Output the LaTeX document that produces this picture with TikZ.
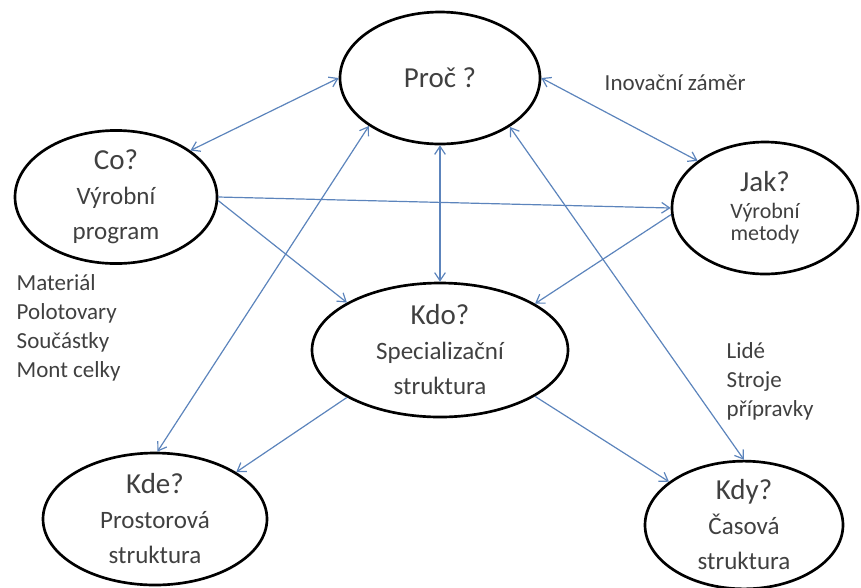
\documentclass[tikz,border=0pt]{standalone}
\usepackage{fontspec}
\setmainfont{Carlito}
\usetikzlibrary{shapes.geometric}
\usetikzlibrary{arrows.meta}

\definecolor{textgray}{RGB}{64,64,64}
\definecolor{linkblue}{RGB}{92,132,188}
\newcommand{\qsize}{\fontsize{21.75}{26.25}\selectfont}
\newcommand{\dsize}{\fontsize{18.75}{26.25}\selectfont}
\newcommand{\jsize}{\fontsize{16.5}{17}\selectfont}
\newcommand{\lsize}{\fontsize{17.25}{21.75}\selectfont}

\tikzset{
  bubble/.style={ellipse,draw=black,line width=2pt,inner sep=0pt,align=center,text=textgray,font=\dsize},
  link/.style={draw=linkblue,line width=0.9pt,{Straight Barb[length=6pt,width=8pt]}-{Straight Barb[length=6pt,width=8pt]}},
  onelink/.style={draw=linkblue,line width=0.9pt,-{Straight Barb[length=6pt,width=8pt]}},
  side/.style={anchor=west,align=left,text=textgray,font=\lsize}
}

\begin{document}
\begin{tikzpicture}[x=0.75pt,y=-0.75pt]
\useasboundingbox (0,0) rectangle (861,587);
\node[bubble,minimum width=150pt,minimum height=99pt] (proc) at (440,78) {{\qsize Proč ?}};
\node[bubble,minimum width=151.5pt,minimum height=97.5pt] (co) at (116,197) {{\qsize Co?}\\Výrobní\\program};
\node[bubble,minimum width=139.5pt,minimum height=99pt,font=\jsize] (jak) at (765,208) {{\qsize Jak?}\\[3pt]Výrobní\\metody};
\node[bubble,minimum width=192pt,minimum height=100.5pt] (kdo) at (440,350) {{\qsize Kdo?}\\Specializační\\struktura};
\node[bubble,minimum width=168pt,minimum height=99pt] (kde) at (155,519) {{\qsize Kde?}\\Prostorová\\struktura};
\node[bubble,minimum width=148.5pt,minimum height=93pt] (kdy) at (744,525) {{\qsize Kdy?}\\Časová\\struktura};

\node[side] (zamer) at (600,83) {Inovační záměr};
\node[side] (dily) at (12,328) {Materiál\\Polotovary\\Součástky\\Mont celky};
\node[side] (zdroje) at (722,381) {Lidé\\Stroje\\přípravky};

\draw[link] (proc.west) -- (co.32);
\draw[link] (proc.east) -- (jak.145);
\draw[link] (proc.south) -- (kdo.north);
\draw[link] (proc.214) -- (kde.88);
\draw[link] (proc.-35) -- (kdy.north);
\draw[onelink] (co.east) -- (jak.west);
\draw[onelink] (co.-2) -- (kdo.153);
\draw[onelink] (jak.184) -- (kdo.26);
\draw[onelink] (kdo.207) -- (kde.30);
\draw[onelink] (kdo.-26) -- (kdy.150);
\end{tikzpicture}
\end{document}
